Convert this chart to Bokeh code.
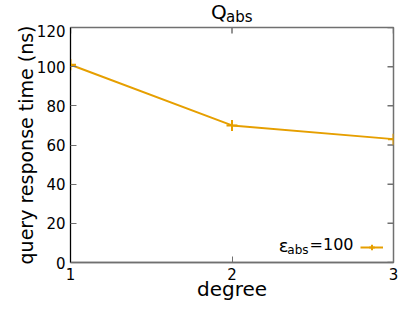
import math
from bokeh.plotting import figure
from bokeh.layouts import column
from bokeh.models import Label, Legend, LegendItem, FixedTicker, Range1d, Div
from bokeh.embed import file_html
from bokeh.resources import INLINE

degree = [1, 2, 3]
response_ns = [101, 70, 63]
x_ticks = [1, 2, 3]
y_ticks = [0, 20, 40, 60, 80, 100, 120]
title_main, title_sub = "Q", "abs"
legend_sym, legend_sub, legend_val = "\u03b5", "abs", "=100"

FONT = "DejaVu Sans"
ORANGE = "#E69F00"
GRAY = "#707070"

title_div = Div(
    text=(f'<div style="position:relative;width:407px;height:24px;font-family:\'{FONT}\';'
          f'color:black;white-space:nowrap;">'
          f'<span style="position:absolute;left:211px;top:2px;font-size:20px;line-height:20px;">{title_main}</span>'
          f'<span style="position:absolute;left:226px;top:10px;font-size:15px;line-height:15px;">{title_sub}</span>'
          f'</div>'),
    width=407, height=24, margin=(0, 0, 0, 0))

p = figure(width=407, height=280, output_backend="svg", toolbar_location=None, title=None,
           x_range=Range1d(1, 3), y_range=Range1d(0, 120),
           min_border_left=70, min_border_right=14, min_border_top=3, min_border_bottom=42,
           x_axis_label="degree", y_axis_label="query response time (ns)")
p.grid.visible = False
p.outline_line_color = GRAY
p.outline_line_width = 1.5
p.background_fill_color = "white"
p.border_fill_color = "white"

for ax in [p.xaxis[0], p.yaxis[0]]:
    ax.major_tick_in = 6
    ax.major_tick_out = 0
    ax.minor_tick_line_color = None
    ax.major_label_text_font = FONT
    ax.major_label_text_font_size = "15px"
    ax.major_label_text_color = "black"
    ax.axis_label_text_font = FONT
    ax.axis_label_text_font_size = "20px"
    ax.axis_label_text_font_style = "normal"
    ax.axis_label_text_color = "black"
    ax.major_label_standoff = 5
p.yaxis[0].axis_label_text_font_size = "19px"
p.xaxis[0].ticker = FixedTicker(ticks=x_ticks)
p.yaxis[0].ticker = FixedTicker(ticks=y_ticks)
p.xaxis[0].axis_line_color = GRAY
p.xaxis[0].major_tick_line_color = GRAY
p.xaxis[0].axis_line_width = 1.5
p.xaxis[0].axis_label_standoff = -6
p.yaxis[0].axis_label_standoff = -3
p.yaxis[0].axis_line_color = "black"
p.yaxis[0].major_tick_line_color = GRAY

# mirrored ticks on the right and top edges (half of each dash is clipped by the frame)
p.scatter([x_ticks[-1]] * len(y_ticks), y_ticks, marker="dash", size=12,
          line_color=GRAY, line_width=1.5)
p.scatter(x_ticks, [y_ticks[-1]] * len(x_ticks), marker="dash", size=12, angle=math.pi / 2,
          line_color=GRAY, line_width=1.5)

line_r = p.line(degree, response_ns, line_color=ORANGE, line_width=2)
pts_r = p.scatter(degree, response_ns, marker="cross", size=11, line_color=ORANGE, line_width=2)

legend = Legend(items=[LegendItem(label=" ", renderers=[line_r, pts_r])],
                location=(290, 8), border_line_color=None, background_fill_alpha=0,
                padding=0, margin=0, spacing=0, label_width=0, label_standoff=0,
                glyph_width=23, glyph_height=14, label_text_font_size="14px")
p.add_layout(legend)

def lab(x, y, text, size, align="left"):
    p.add_layout(Label(x=x, y=y, x_units="screen", y_units="screen", text=text,
                       text_font=FONT, text_font_size=size, text_color="black",
                       text_align=align, text_baseline="alphabetic"))

lab(283, 18, legend_val, "16px", "right")
lab(238, 13, legend_sub, "12px", "right")
lab(218, 17, legend_sym, "18px", "right")

open("out.html", "w").write(file_html(column(title_div, p, spacing=0), INLINE))
